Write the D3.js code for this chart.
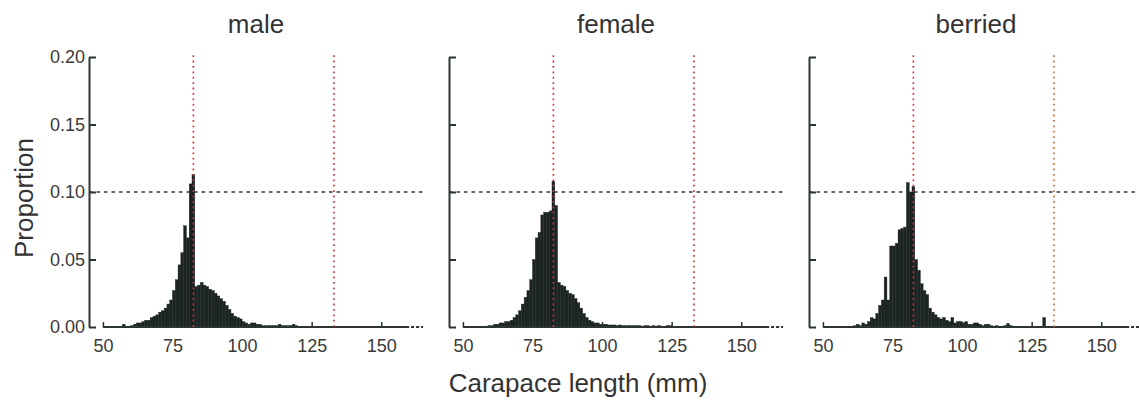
<!DOCTYPE html>
<html>
<head>
<meta charset="utf-8">
<script src="https://cdn.jsdelivr.net/npm/d3@7"></script>
<style>
  html, body { margin: 0; padding: 0; background: #ffffff; }
  svg { display: block; font-family: "Liberation Sans", Arial, Helvetica, sans-serif; }
</style>
</head>
<body>
<svg id="chart" width="1139" height="417"></svg>
<script>
// Panel names (one histogram per group)
const panels = ["male", "female", "berried"];

// Proportion of animals in each 1 mm carapace-length bin, bins starting at 50 mm
const binStart = 50;
const maleProp = [
  0, 0, 0, 0, 0, 0, 0, 0.002, 0, 0.0005,
  0.001, 0.002, 0.003, 0.003, 0.004, 0.005, 0.005, 0.007, 0.008, 0.009,
  0.011, 0.012, 0.014, 0.017, 0.020, 0.027, 0.035, 0.046, 0.055, 0.075,
  0.066, 0.106, 0.113, 0.030, 0.031, 0.033, 0.031, 0.030, 0.028, 0.027,
  0.025, 0.023, 0.021, 0.019, 0.016, 0.013, 0.010, 0.008, 0.007, 0.006,
  0.004, 0.003, 0.002, 0.003, 0.003, 0.002, 0.002, 0.001, 0.001, 0.001,
  0.001, 0.001, 0.001, 0.002, 0.001, 0.001, 0.001, 0.001, 0.002, 0.001,
  0.0005, 0, 0.0005, 0, 0, 0.0005, 0, 0, 0, 0,
  0, 0, 0, 0, 0, 0, 0, 0, 0, 0,
  0, 0, 0, 0, 0, 0, 0, 0, 0, 0,
  0, 0, 0, 0, 0, 0, 0, 0, 0, 0
];
const femaleProp = [
  0, 0, 0, 0, 0, 0, 0, 0, 0.0005, 0.001,
  0.001, 0.002, 0.002, 0.003, 0.003, 0.004, 0.004, 0.005, 0.007, 0.009,
  0.012, 0.017, 0.022, 0.027, 0.035, 0.050, 0.066, 0.070, 0.083, 0.085,
  0.085, 0.086, 0.108, 0.090, 0.033, 0.031, 0.030, 0.027, 0.025, 0.024,
  0.021, 0.018, 0.014, 0.010, 0.007, 0.005, 0.004, 0.003, 0.003, 0.002,
  0.002, 0.002, 0.0015, 0.0015, 0.0015, 0.001, 0.0015, 0.001, 0.001, 0.001,
  0.001, 0.001, 0.001, 0.001, 0.0005, 0.001, 0.001, 0.0005, 0.001, 0.0005,
  0.001, 0.0005, 0.0005, 0.001, 0.001, 0, 0, 0, 0, 0,
  0, 0, 0, 0, 0, 0, 0, 0, 0, 0,
  0, 0, 0, 0, 0, 0, 0, 0, 0, 0,
  0, 0, 0, 0, 0, 0, 0, 0, 0, 0
];
const berriedProp = [
  0, 0, 0, 0, 0, 0, 0, 0, 0, 0,
  0, 0.001, 0.002, 0.001, 0.003, 0.002, 0.004, 0.007, 0.006, 0.010,
  0.016, 0.020, 0.037, 0.020, 0.060, 0.060, 0.062, 0.072, 0.073, 0.074,
  0.107, 0.100, 0.104, 0.050, 0.042, 0.032, 0.027, 0.024, 0.014, 0.011,
  0.009, 0.007, 0.006, 0.007, 0.005, 0.004, 0.007, 0.003, 0.004, 0.004,
  0.003, 0.004, 0.002, 0.002, 0.003, 0.003, 0.002, 0.001, 0.002, 0.002,
  0.001, 0, 0.001, 0, 0, 0.001, 0.0025, 0.001, 0, 0,
  0, 0, 0, 0.0005, 0, 0, 0, 0, 0, 0.007,
  0, 0, 0, 0, 0, 0, 0, 0, 0, 0,
  0, 0, 0, 0, 0, 0, 0, 0, 0, 0,
  0, 0, 0, 0, 0, 0, 0, 0, 0, 0
];
const panelValues = [maleProp, femaleProp, berriedProp];

// Axis ticks and reference lines
const xTicks = [50, 75, 100, 125, 150];
const yTicks = [0, 0.05, 0.10, 0.15, 0.20];
const refLengths = [82.5, 133];      // vertical dotted lines (mm)
const refProportion = 0.10;          // horizontal dashed line
const xDomain = [45, 165];
const yDomain = [0, 0.20];
const histEnd = 160;                 // last bin edge of the histograms

// Layout
const panelLeft = [89, 449, 809];
const panelWidth = 334;
const plotTop = 57, plotBottom = 327;

const ink = "#2c3431";
const barFill = "#1b2421";
const svg = d3.select("#chart");

const y = d3.scaleLinear().domain(yDomain).range([plotBottom, plotTop]);

panels.forEach((name, i) => {
  const x = d3.scaleLinear().domain(xDomain)
    .range([panelLeft[i], panelLeft[i] + panelWidth]);
  const g = svg.append("g");
  const values = panelValues[i];
  const bins = values.map((v, k) => ({ x0: binStart + k, x1: binStart + k + 1, v }));

  // histogram bars
  g.append("g").selectAll("rect")
    .data(bins.filter(d => d.v > 0))
    .join("rect")
    .attr("x", d => x(d.x0))
    .attr("width", d => x(d.x1) - x(d.x0))
    .attr("y", d => y(d.v))
    .attr("height", d => y(0) - y(d.v))
    .attr("fill", barFill)
    .attr("stroke", barFill)
    .attr("stroke-width", 0.4);

  // histogram baseline, dashed beyond the last bin
  g.append("line")
    .attr("x1", x(binStart)).attr("x2", x(histEnd))
    .attr("y1", y(0)).attr("y2", y(0))
    .attr("stroke", ink).attr("stroke-width", 2);
  g.append("line")
    .attr("x1", x(histEnd) + 2).attr("x2", x(xDomain[1]))
    .attr("y1", y(0)).attr("y2", y(0))
    .attr("stroke", ink).attr("stroke-width", 2)
    .attr("stroke-dasharray", "3,2");

  // x axis: inward ticks, labels below
  const xAxis = d3.axisBottom(x).tickValues(xTicks)
    .tickSizeInner(-5).tickSizeOuter(0).tickPadding(12)
    .tickFormat(d3.format("d"));
  const gx = g.append("g").attr("transform", `translate(0,${y(0)})`).call(xAxis);
  gx.select(".domain").remove();
  gx.selectAll(".tick line").attr("stroke", ink).attr("stroke-width", 1.5);
  gx.selectAll(".tick text").attr("fill", "#3a3a3a").attr("font-size", 18)
    .attr("font-family", "'Liberation Sans', Arial, sans-serif");

  // y axis: inward ticks, labels on the first panel only
  const yAxis = d3.axisLeft(y).tickValues(yTicks)
    .tickSizeInner(-7).tickSizeOuter(0).tickPadding(4)
    .tickFormat(i === 0 ? d3.format(".2f") : () => "");
  const gy = g.append("g").attr("transform", `translate(${x(xDomain[0])},0)`).call(yAxis);
  gy.select(".domain").attr("stroke", ink).attr("stroke-width", 2);
  gy.selectAll(".tick line").attr("stroke", ink).attr("stroke-width", 2);
  gy.selectAll(".tick text").attr("fill", "#3a3a3a").attr("font-size", 18)
    .attr("font-family", "'Liberation Sans', Arial, sans-serif");

  // horizontal reference line
  g.append("line")
    .attr("x1", x(xDomain[0])).attr("x2", x(xDomain[1]))
    .attr("y1", y(refProportion)).attr("y2", y(refProportion))
    .attr("stroke", "#333").attr("stroke-width", 1.5)
    .attr("stroke-dasharray", "3.5,4");

  // vertical reference lines
  g.selectAll(".ref")
    .data(refLengths)
    .join("line")
    .attr("class", "ref")
    .attr("x1", d => x(d)).attr("x2", d => x(d))
    .attr("y1", y(0)).attr("y2", y(yDomain[1]) - 5)
    .attr("stroke", (d, k) => (i === 2 && k === 1) ? "#d9662e" : "#d42a2f")
    .attr("stroke-width", 1.6)
    .attr("stroke-dasharray", "1.8,3.6");

  // panel title
  g.append("text")
    .attr("x", (x.range()[0] + x.range()[1]) / 2)
    .attr("y", 33)
    .attr("text-anchor", "middle")
    .attr("font-size", 26)
    .attr("fill", "#333")
    .text(name);
});

// axis titles
svg.append("text")
  .attr("transform", `translate(33,${(plotTop + plotBottom) / 2 + 6}) rotate(-90)`)
  .attr("text-anchor", "middle")
  .attr("font-size", 26)
  .attr("fill", "#333")
  .text("Proportion");

svg.append("text")
  .attr("x", 578)
  .attr("y", 392)
  .attr("text-anchor", "middle")
  .attr("font-size", 26)
  .attr("fill", "#333")
  .text("Carapace length (mm)");
</script>
</body>
</html>
